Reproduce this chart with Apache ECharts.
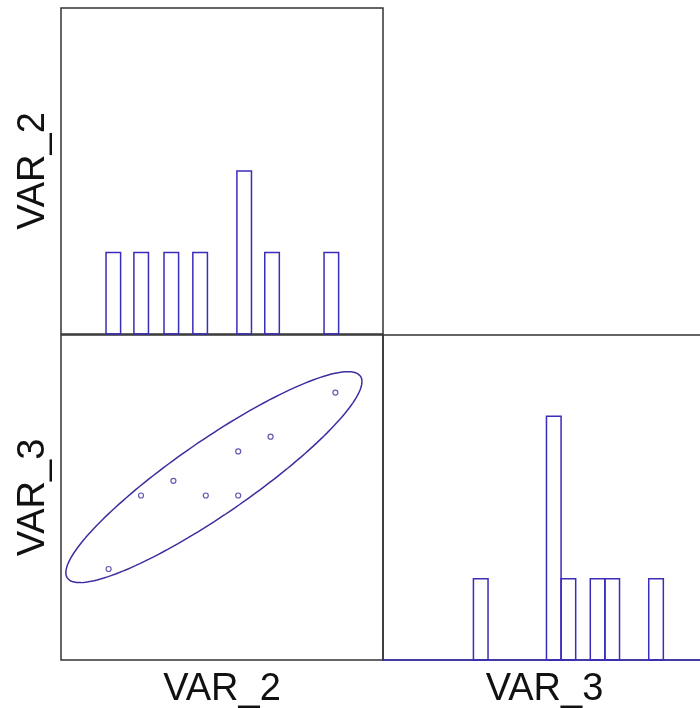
<!DOCTYPE html>
<html>
<head>
<meta charset="utf-8">
<title>VAR_2 / VAR_3</title>
<script src="https://cdn.jsdelivr.net/npm/echarts@6/dist/echarts.min.js"></script>
<style>
  html, body { margin: 0; padding: 0; background: #fff; }
  #main { width: 700px; height: 708px; }
</style>
</head>
<body>
<div id="main"></div>
<script>
// raw observations
var var2 = [1, 2, 3, 4, 5, 5, 6, 8];
var var3 = [0, 5, 6, 5, 5, 8, 9, 12];

// histogram bars (bin start, bin width, count)
var hist2Start = [0.92, 1.78, 2.71, 3.60, 4.96, 5.82, 7.65];
var hist2Count = [1, 1, 1, 1, 2, 1, 1];
var hist2Width = 0.45;
var hist3Start = [0, 5, 6, 8, 9, 12];
var hist3Count = [1, 3, 1, 1, 1, 1];
var hist3Width = 1;

// axis ranges
var var2Range = [-0.47, 9.47];
var var3Range = [-6.19, 15.92];
var countRange = [0, 4];
var ellipseScale = 2.03;

var blue = '#3a2db8';
var frame = '#333';
var font = 'Liberation Sans, Arial, sans-serif';

// density ellipse from mean and covariance of the points
function ellipsePoints(xs, ys, k) {
    var n = xs.length, mx = 0, my = 0;
    for (var i = 0; i < n; i++) { mx += xs[i]; my += ys[i]; }
    mx /= n; my /= n;
    var sxx = 0, syy = 0, sxy = 0;
    for (var i = 0; i < n; i++) {
        sxx += (xs[i] - mx) * (xs[i] - mx);
        syy += (ys[i] - my) * (ys[i] - my);
        sxy += (xs[i] - mx) * (ys[i] - my);
    }
    var sx = Math.sqrt(sxx / (n - 1)), sy = Math.sqrt(syy / (n - 1));
    var r = sxy / Math.sqrt(sxx * syy);
    var pts = [];
    for (var j = 0; j <= 180; j++) {
        var t = j / 180 * Math.PI * 2;
        pts.push([mx + k * sx * Math.cos(t),
                  my + k * sy * (r * Math.cos(t) + Math.sqrt(1 - r * r) * Math.sin(t))]);
    }
    return pts;
}

function histData(starts, counts, w) {
    var d = [];
    for (var i = 0; i < starts.length; i++) d.push([starts[i], starts[i] + w, counts[i]]);
    return d;
}

function renderBar(params, api) {
    var p0 = api.coord([api.value(0), api.value(2)]);
    var p1 = api.coord([api.value(1), 0]);
    return {
        type: 'rect',
        shape: { x: p0[0], y: p0[1], width: p1[0] - p0[0], height: p1[1] - p0[1] },
        style: { fill: 'none', stroke: blue, lineWidth: 1.5 }
    };
}

var scatterData = var2.map(function (v, i) { return [v, var3[i]]; });

function baseAxis(extra) {
    var a = {
        type: 'value',
        axisLine: { show: false },
        axisTick: { show: false },
        axisLabel: { show: false },
        splitLine: { show: false },
        nameTextStyle: { fontFamily: font, fontSize: 38, color: '#111' }
    };
    for (var key in extra) a[key] = extra[key];
    return a;
}

function panel(left, top, w, h) {
    return { left: left, top: top, width: w, height: h, show: true,
             borderColor: frame, borderWidth: 1.5, outerBoundsMode: 'none' };
}

var myChart = echarts.init(document.getElementById('main'));
var option = {
    animation: false,
    backgroundColor: '#fff',
    grid: [
        panel(61, 8, 322, 326),
        panel(61, 335, 322, 325),
        panel(383, 335, 323, 325)
    ],
    xAxis: [
        baseAxis({ gridIndex: 0, min: var2Range[0], max: var2Range[1] }),
        baseAxis({ gridIndex: 1, min: var2Range[0], max: var2Range[1],
                   name: 'VAR_2', nameLocation: 'middle', nameGap: 11 }),
        baseAxis({ gridIndex: 2, min: var3Range[0], max: var3Range[1],
                   name: 'VAR_3', nameLocation: 'middle', nameGap: 11,
                   axisLine: { show: true, lineStyle: { color: blue, width: 1.5 } } })
    ],
    yAxis: [
        baseAxis({ gridIndex: 0, min: countRange[0], max: countRange[1],
                   name: 'VAR_2', nameLocation: 'middle', nameGap: 8, nameRotate: 90 }),
        baseAxis({ gridIndex: 1, min: var3Range[0], max: var3Range[1],
                   name: 'VAR_3', nameLocation: 'middle', nameGap: 8, nameRotate: 90 }),
        baseAxis({ gridIndex: 2, min: countRange[0], max: countRange[1] })
    ],
    series: [
        { type: 'custom', xAxisIndex: 0, yAxisIndex: 0, renderItem: renderBar,
          data: histData(hist2Start, hist2Count, hist2Width) },
        { type: 'line', xAxisIndex: 1, yAxisIndex: 1, showSymbol: false, smooth: false,
          lineStyle: { color: '#3b2e9e', width: 1.5 },
          data: ellipsePoints(var2, var3, ellipseScale) },
        { type: 'scatter', xAxisIndex: 1, yAxisIndex: 1, symbol: 'circle', symbolSize: 5,
          itemStyle: { color: '#fff', borderColor: '#3b2e9e', borderWidth: 1.2 },
          data: scatterData },
        { type: 'custom', xAxisIndex: 2, yAxisIndex: 2, renderItem: renderBar,
          data: histData(hist3Start, hist3Count, hist3Width) }
    ]
};
myChart.setOption(option);
</script>
</body>
</html>
